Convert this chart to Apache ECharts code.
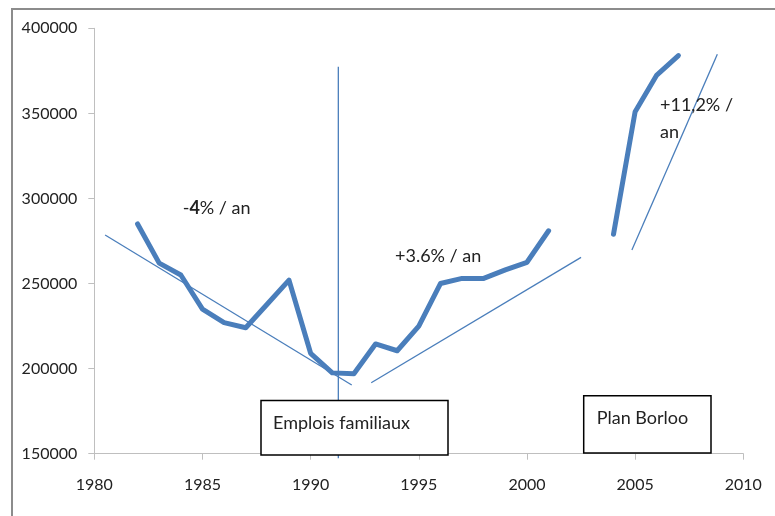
<!DOCTYPE html>
<html>
<head>
<meta charset="utf-8">
<script src="https://cdn.jsdelivr.net/npm/echarts@6/dist/echarts.min.js"></script>
<style>html,body{margin:0;padding:0;background:#fff;}#c{width:775px;height:516px;}</style>
</head>
<body>
<div id="c"></div>
<script>
const years = [1982,1983,1984,1985,1986,1987,1988,1989,1990,1991,1992,1993,1994,1995,1996,1997,1998,1999,2000,2001,2002,2003,2004,2005,2006,2007];
const values = [285000,262000,255000,235000,227000,224000,238000,252000,209000,197500,197000,214500,210500,225000,250000,253000,253000,258000,262500,281000,null,null,279000,351000,372500,384000];
const trend1 = [[1980.5,278500],[1991.9,190400]];
const trend2 = [[1992.8,191700],[2002.5,265400]];
const trend3 = [[2004.85,269700],[2008.8,384700]];
const marker = [[1991.28,147300],[1991.28,377400]];
const xTicks = [1980,1985,1990,1995,2000,2005,2010];
const yTicks = [150000,200000,250000,300000,350000,400000];

const FONT = 'Lato';
const blue = '#4a7ebb';
const chart = echarts.init(document.getElementById('c'));
const main = years.map((y,i)=>[y, values[i]===null ? '-' : values[i]]);
const thin = (d)=>({type:'line', data:d, symbol:'none', silent:true, clip:false,
  lineStyle:{color:blue, width:1.3}});
chart.setOption({
  animation:false,
  grid:{left:94.3, right:31.7, top:28.3, bottom:62.3},
  xAxis:{type:'value', min:xTicks[0], max:xTicks[xTicks.length-1], interval:5,
    axisLine:{show:true, lineStyle:{color:'#bfbfbf', width:1}},
    axisTick:{show:true, inside:false, length:6, lineStyle:{color:'#bfbfbf'}},
    splitLine:{show:false},
    axisLabel:{color:'#222', fontFamily:FONT, fontSize:16, margin:23, formatter:(v)=>String(v)}},
  yAxis:{type:'value', min:yTicks[0], max:yTicks[yTicks.length-1], interval:50000,
    axisLine:{show:true, lineStyle:{color:'#bfbfbf', width:1}},
    axisTick:{show:true, inside:false, length:6, lineStyle:{color:'#bfbfbf'}},
    splitLine:{show:false},
    axisLabel:{color:'#222', fontFamily:FONT, fontSize:16, margin:17, formatter:(v)=>String(v)}},
  series:[
    thin(trend1), thin(trend2), thin(trend3), thin(marker),
    {type:'line', data:main, symbol:'none', connectNulls:false,
      lineStyle:{color:blue, width:5, cap:'round', join:'round'}}
  ],
  graphic:[
    {type:'rect', shape:{x:12, y:9, width:800, height:540}, style:{fill:'none', stroke:'#8c8c8c', lineWidth:2}, silent:true},
    {type:'rect', shape:{x:261, y:400.5, width:187, height:54.5}, style:{fill:'#fff', stroke:'#000', lineWidth:1.5}, z:10},
    {type:'text', x:273, y:423.3, style:{text:'Emplois familiaux', font:'18px '+FONT, fill:'#222', verticalAlign:'middle'}, z:11},
    {type:'rect', shape:{x:583.7, y:395.7, width:127.3, height:57.3}, style:{fill:'#fff', stroke:'#000', lineWidth:1.5}, z:10},
    {type:'text', x:596.7, y:418.3, style:{text:'Plan Borloo', font:'18px '+FONT, fill:'#222', verticalAlign:'middle'}, z:11},
    {type:'text', x:182.7, y:208, style:{rich:{n:{font:'18px '+FONT, fill:'#222'}, b:{font:'bold 18px '+FONT, fill:'#222'}}, text:'{n|-}{b|4}{n|% / an}', verticalAlign:'middle'}, z:11},
    {type:'text', x:395, y:255.7, style:{text:'+3.6% / an', font:'18px '+FONT, fill:'#222', verticalAlign:'middle'}, z:11},
    {type:'text', x:660, y:105, style:{text:'+11,2% /', font:'18px '+FONT, fill:'#222', verticalAlign:'middle'}, z:11},
    {type:'text', x:660, y:131.7, style:{text:'an', font:'18px '+FONT, fill:'#222', verticalAlign:'middle'}, z:11}
  ]
});
</script>
</body>
</html>
